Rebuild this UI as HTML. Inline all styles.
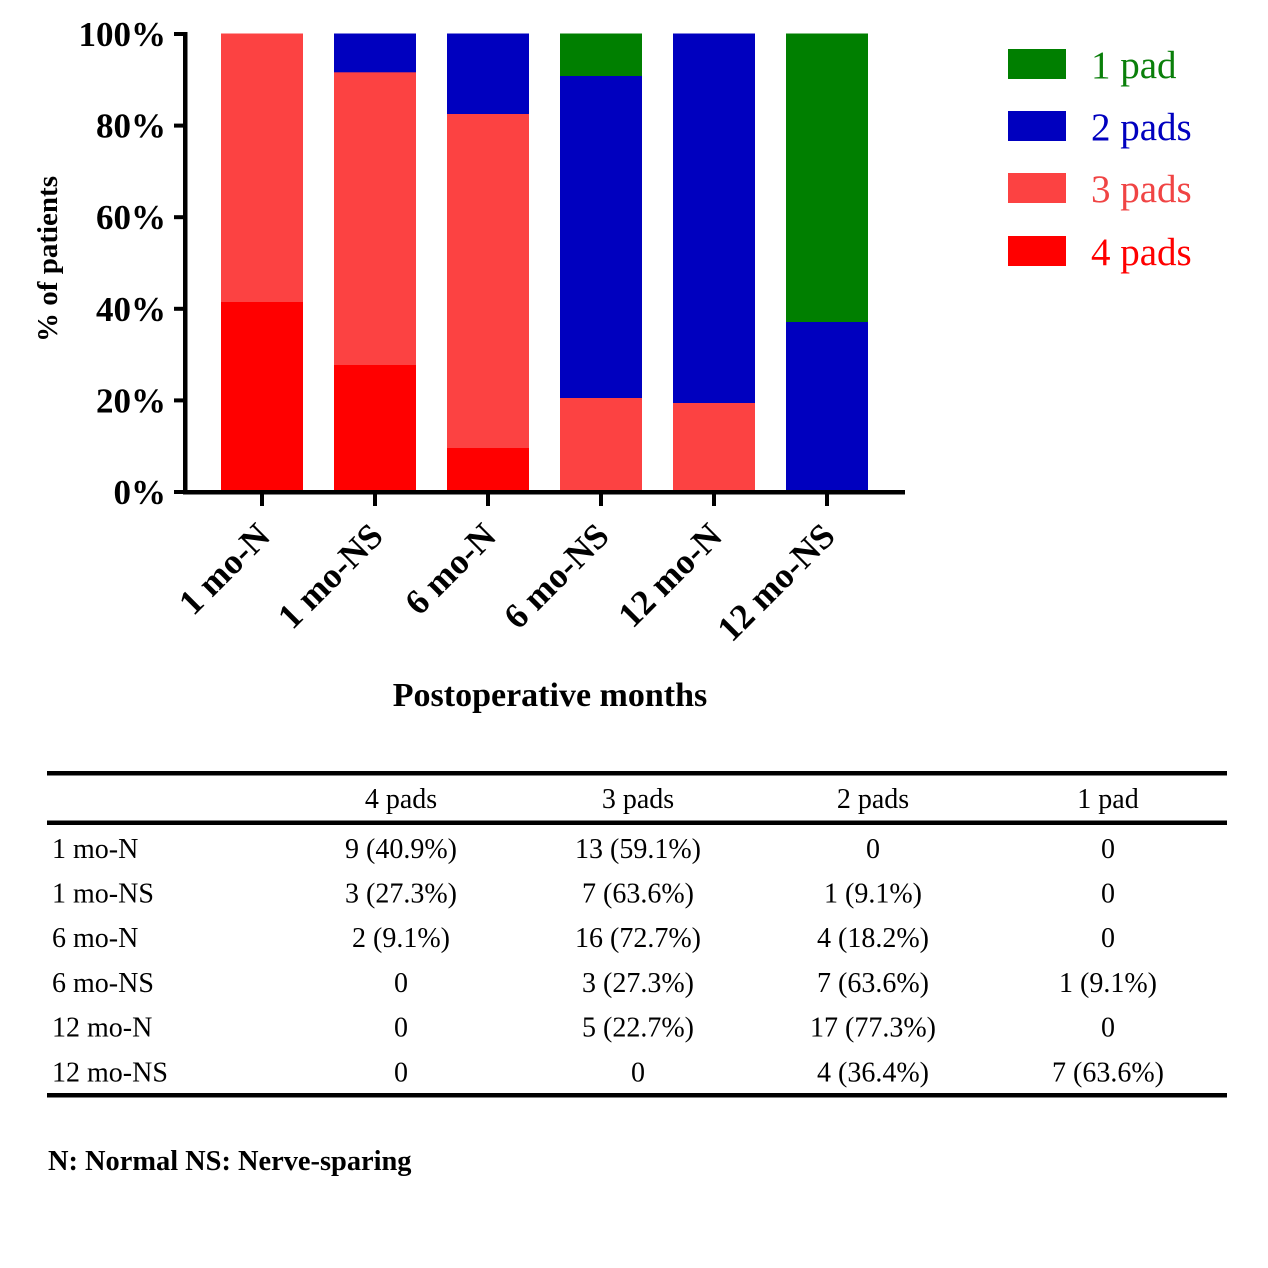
<!DOCTYPE html>
<html>
<head>
<meta charset="utf-8">
<style>
html,body{margin:0;padding:0;background:#fff;}
svg{display:block;}
.b{font-family:"Liberation Serif","Times New Roman",serif;font-weight:bold;fill:#000;}
.r{font-family:"Liberation Serif","Times New Roman",serif;font-weight:normal;fill:#000;}
</style>
</head>
<body>
<svg width="1268" height="1268" viewBox="0 0 1268 1268" xmlns="http://www.w3.org/2000/svg">
<rect x="0" y="0" width="1268" height="1268" fill="#fff"/>

<!-- Bars -->
<rect x="221" y="33.5" width="82" height="268.5" fill="#FC4242"/>
<rect x="221" y="302" width="82" height="189" fill="#FF0000"/>
<rect x="334" y="33.5" width="82" height="39" fill="#0000BF"/>
<rect x="334" y="72.3" width="82" height="292.7" fill="#FC4242"/>
<rect x="334" y="365" width="82" height="126" fill="#FF0000"/>
<rect x="447" y="33.5" width="82" height="80.5" fill="#0000BF"/>
<rect x="447" y="114" width="82" height="334" fill="#FC4242"/>
<rect x="447" y="448" width="82" height="43" fill="#FF0000"/>
<rect x="560" y="33.5" width="82" height="42.5" fill="#007F00"/>
<rect x="560" y="76" width="82" height="322" fill="#0000BF"/>
<rect x="560" y="398" width="82" height="93" fill="#FC4242"/>
<rect x="673" y="33.5" width="82" height="369.5" fill="#0000BF"/>
<rect x="673" y="403" width="82" height="88" fill="#FC4242"/>
<rect x="786" y="33.5" width="82" height="288.5" fill="#007F00"/>
<rect x="786" y="322" width="82" height="169" fill="#0000BF"/>

<!-- Axes -->
<rect x="183" y="32" width="4.5" height="462" fill="#000"/>
<rect x="183" y="490" width="722" height="4.5" fill="#000"/>
<rect x="174" y="32" width="12" height="4" fill="#000"/>
<rect x="174" y="123.6" width="12" height="4" fill="#000"/>
<rect x="174" y="215.2" width="12" height="4" fill="#000"/>
<rect x="174" y="306.8" width="12" height="4" fill="#000"/>
<rect x="174" y="398.4" width="12" height="4" fill="#000"/>
<rect x="174" y="490" width="12" height="4" fill="#000"/>
<rect x="260" y="492" width="4" height="14" fill="#000"/>
<rect x="373" y="492" width="4" height="14" fill="#000"/>
<rect x="486" y="492" width="4" height="14" fill="#000"/>
<rect x="599" y="492" width="4" height="14" fill="#000"/>
<rect x="712" y="492" width="4" height="14" fill="#000"/>
<rect x="825" y="492" width="4" height="14" fill="#000"/>

<!-- y tick labels -->
<g class="b" font-size="35" text-anchor="end">
<text x="166" y="46">100%</text>
<text x="166" y="137.6">80%</text>
<text x="166" y="229.2">60%</text>
<text x="166" y="320.8">40%</text>
<text x="166" y="412.4">20%</text>
<text x="166" y="504">0%</text>
</g>

<text class="b" font-size="29" text-anchor="middle" transform="translate(57,259) rotate(-90)">% of patients</text>

<!-- x tick labels -->
<g class="b" font-size="35.5" text-anchor="end">
<text transform="translate(272,538) rotate(-45)">1 mo-N</text>
<text transform="translate(385,538) rotate(-45)">1 mo-NS</text>
<text transform="translate(498,538) rotate(-45)">6 mo-N</text>
<text transform="translate(611,538) rotate(-45)">6 mo-NS</text>
<text transform="translate(724,538) rotate(-45)">12 mo-N</text>
<text transform="translate(837,538) rotate(-45)">12 mo-NS</text>
</g>

<text class="b" font-size="34" x="550" y="706" text-anchor="middle">Postoperative months</text>

<!-- Legend -->
<rect x="1008" y="49" width="58" height="30" fill="#007F00"/>
<rect x="1008" y="111" width="58" height="30" fill="#0000BF"/>
<rect x="1008" y="173" width="58" height="30" fill="#FC4242"/>
<rect x="1008" y="236" width="58" height="30" fill="#FF0000"/>
<g font-family="Liberation Serif, Times New Roman, serif" font-size="39">
<text x="1091" y="78" fill="#0A7F0A">1 pad</text>
<text x="1091" y="140" fill="#0000BF">2 pads</text>
<text x="1091" y="202" fill="#F04444">3 pads</text>
<text x="1091" y="265" fill="#FF0000">4 pads</text>
</g>

<!-- Table rules -->
<rect x="47" y="771" width="1180" height="4.5" fill="#000"/>
<rect x="47" y="820.5" width="1180" height="4.5" fill="#000"/>
<rect x="47" y="1093" width="1180" height="4.5" fill="#000"/>

<g class="r" font-size="28" text-anchor="middle">
<text x="401" y="808">4 pads</text>
<text x="638" y="808">3 pads</text>
<text x="873" y="808">2 pads</text>
<text x="1108" y="808">1 pad</text>
</g>

<g class="r" font-size="28">
<text x="52" y="858">1 mo-N</text>
<text x="52" y="902.5">1 mo-NS</text>
<text x="52" y="947">6 mo-N</text>
<text x="52" y="992">6 mo-NS</text>
<text x="52" y="1036.5">12 mo-N</text>
<text x="52" y="1081.5">12 mo-NS</text>
</g>
<g class="r" font-size="28" text-anchor="middle">
<text x="401" y="858">9 (40.9%)</text>
<text x="638" y="858">13 (59.1%)</text>
<text x="873" y="858">0</text>
<text x="1108" y="858">0</text>

<text x="401" y="902.5">3 (27.3%)</text>
<text x="638" y="902.5">7 (63.6%)</text>
<text x="873" y="902.5">1 (9.1%)</text>
<text x="1108" y="902.5">0</text>

<text x="401" y="947">2 (9.1%)</text>
<text x="638" y="947">16 (72.7%)</text>
<text x="873" y="947">4 (18.2%)</text>
<text x="1108" y="947">0</text>

<text x="401" y="992">0</text>
<text x="638" y="992">3 (27.3%)</text>
<text x="873" y="992">7 (63.6%)</text>
<text x="1108" y="992">1 (9.1%)</text>

<text x="401" y="1036.5">0</text>
<text x="638" y="1036.5">5 (22.7%)</text>
<text x="873" y="1036.5">17 (77.3%)</text>
<text x="1108" y="1036.5">0</text>

<text x="401" y="1081.5">0</text>
<text x="638" y="1081.5">0</text>
<text x="873" y="1081.5">4 (36.4%)</text>
<text x="1108" y="1081.5">7 (63.6%)</text>
</g>

<text class="b" font-size="28.4" x="48" y="1170">N: Normal NS: Nerve-sparing</text>
</svg>
</body>
</html>
